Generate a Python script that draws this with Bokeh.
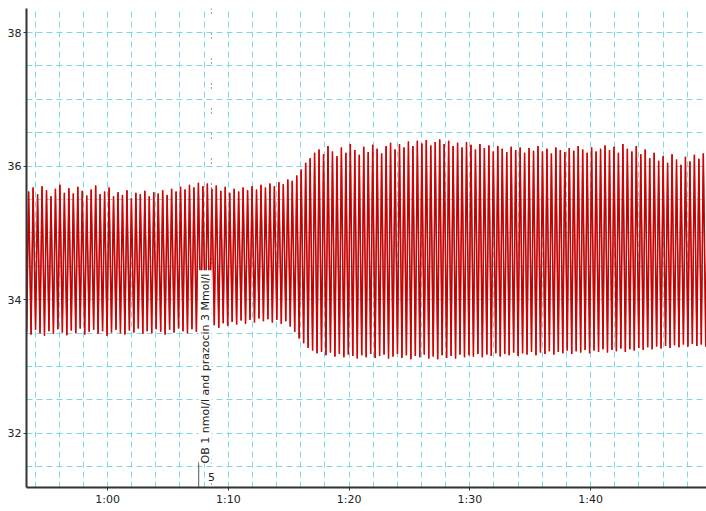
import math
from bokeh.plotting import figure
from bokeh.models import Range1d, FixedTicker, Span, Label, ColumnDataSource
from bokeh.embed import file_html
from bokeh.resources import INLINE

# ---- data ----
CYCLE_START = 53.3     # seconds, first trough
CYCLE_PERIOD = 0.37    # seconds per beat

PEAKS = [
    35.62, 35.68, 35.58, 35.70, 35.64, 35.55, 35.66, 35.72, 35.60, 35.67,
    35.59, 35.69, 35.63, 35.56, 35.65, 35.71, 35.58, 35.62, 35.68, 35.55,
    35.61, 35.57, 35.64, 35.52, 35.60, 35.58, 35.63, 35.55, 35.61, 35.59,
    35.64, 35.57, 35.66, 35.62, 35.69, 35.65, 35.72, 35.68, 35.75, 35.70,
    35.74, 35.66, 35.71, 35.63, 35.69, 35.60, 35.66, 35.62, 35.68, 35.64,
    35.70, 35.65, 35.72, 35.68, 35.74, 35.70, 35.76, 35.73, 35.80, 35.78,
    35.86, 35.95, 36.05, 36.12, 36.20, 36.25, 36.18, 36.30, 36.22, 36.15,
    36.28, 36.20, 36.33, 36.24, 36.17, 36.29, 36.21, 36.32, 36.26, 36.19,
    36.30, 36.35, 36.25, 36.33, 36.28, 36.37, 36.30, 36.38, 36.34, 36.39,
    36.31, 36.36, 36.40, 36.33, 36.38, 36.30, 36.35, 36.28, 36.36, 36.32,
    36.25, 36.33, 36.27, 36.31, 36.22, 36.30, 36.26, 36.21, 36.29, 36.24,
    36.28, 36.20, 36.27, 36.23, 36.30, 36.22, 36.26, 36.19, 36.28, 36.24,
    36.21, 36.27, 36.23, 36.30, 36.25, 36.20, 36.28, 36.22, 36.26, 36.31,
    36.24, 36.29, 36.20, 36.33, 36.26, 36.22, 36.30, 36.18, 36.25, 36.12,
    36.20, 36.08, 36.15, 36.05, 36.18, 36.10, 36.02, 36.14, 36.07, 36.17,
    36.11, 36.19, 36.09,
]

TROUGHS = [
    33.52, 33.48, 33.55, 33.50, 33.46, 33.53, 33.49, 33.56, 33.51, 33.47,
    33.54, 33.50, 33.57, 33.48, 33.52, 33.55, 33.49, 33.53, 33.46, 33.51,
    33.55, 33.50, 33.48, 33.54, 33.51, 33.57, 33.49, 33.53, 33.50, 33.56,
    33.52, 33.48, 33.55, 33.51, 33.57, 33.53, 33.50, 33.56, 33.52, 33.58,
    33.60, 33.56, 33.62, 33.58, 33.65, 33.61, 33.67, 33.63, 33.69, 33.64,
    33.70, 33.66, 33.72, 33.68, 33.71, 33.66, 33.70, 33.64, 33.68, 33.60,
    33.52, 33.42, 33.35, 33.28, 33.24, 33.20, 33.22, 33.17, 33.21, 33.15,
    33.19, 33.14, 33.18, 33.16, 33.12, 33.17, 33.14, 33.19, 33.13, 33.16,
    33.18, 33.12, 33.15, 33.19, 33.13, 33.17, 33.11, 33.16, 33.14, 33.18,
    33.12, 33.15, 33.11, 33.17, 33.13, 33.16, 33.12, 33.18, 33.14, 33.17,
    33.15, 33.19, 33.14, 33.18, 33.16, 33.20, 33.15, 33.19, 33.17, 33.21,
    33.16, 33.20, 33.18, 33.22, 33.17, 33.21, 33.19, 33.23, 33.18, 33.22,
    33.20, 33.24, 33.19, 33.23, 33.21, 33.25, 33.20, 33.24, 33.22, 33.26,
    33.21, 33.25, 33.23, 33.27, 33.22, 33.26, 33.24, 33.28, 33.25, 33.29,
    33.26, 33.30, 33.27, 33.31, 33.28, 33.32, 33.29, 33.33, 33.30, 33.34,
    33.31, 33.33, 33.30,
]

MARKER_TIME = 68.6
MARKER_TEXT = "OB  1 nmol/l and prazocin 3 Mmol/l"
MARKER_NUMBER = "5"

X_TICKS = [60, 70, 80, 90, 100]
X_LABELS = ["1:00", "1:10", "1:20", "1:30", "1:40"]
X_GRID = list(range(54, 110, 2))
Y_TICKS = [32, 34, 36, 38]
Y_GRID = [31.5 + 0.5 * k for k in range(14)]

# ---- build the trace: trough -> peak -> trough for each beat ----
t, v = [], []
for i, (pk, tr) in enumerate(zip(PEAKS, TROUGHS)):
    t0 = CYCLE_START + i * CYCLE_PERIOD
    t.append(t0)
    v.append(tr)
    t.append(t0 + 0.45 * CYCLE_PERIOD)
    v.append(pk)
src = ColumnDataSource(data=dict(t=t, v=v))

p = figure(frame_width=680, frame_height=479,
           x_range=Range1d(53.29, 109.6), y_range=Range1d(31.19, 38.36),
           output_backend="svg", toolbar_location=None,
           min_border_top=8, min_border_right=0, min_border_left=26, min_border_bottom=24)
p.outline_line_color = None
p.background_fill_color = "white"

FONT = "DejaVu Sans"
GRID_COLOR = "#7ed9e0"

p.xaxis.ticker = FixedTicker(ticks=X_TICKS)
p.xaxis.major_label_overrides = {tk: lb for tk, lb in zip(X_TICKS, X_LABELS)}
p.yaxis.ticker = FixedTicker(ticks=Y_TICKS)
for ax in (p.xaxis[0], p.yaxis[0]):
    ax.axis_line_color = "#333333"
    ax.axis_line_width = 2
    ax.major_tick_line_color = "#333333"
    ax.major_tick_out = 3
    ax.major_tick_in = 0
    ax.minor_tick_line_color = None
    ax.major_label_text_font = FONT
    ax.major_label_text_font_size = "11px"
    ax.major_label_text_color = "#222222"
    ax.major_label_standoff = 2

p.xgrid.ticker = FixedTicker(ticks=X_GRID)
p.ygrid.ticker = FixedTicker(ticks=Y_GRID)
for g in (p.xgrid[0], p.ygrid[0]):
    g.grid_line_color = GRID_COLOR
    g.grid_line_dash = "6 4"
    g.grid_line_width = 1

p.line("t", "v", source=src, line_color="#a80000", line_width=1.5)
p.line("t", "v", source=src, line_color="#e60000", line_width=0.7)

p.add_layout(Span(location=MARKER_TIME, dimension="height", line_color="#333333",
                  line_width=1, line_dash="1 3 1 20"))

p.add_layout(Label(x=67.55, y=31.55, text=MARKER_TEXT, angle=math.pi / 2,
                   text_align="left", text_baseline="top",
                   text_font=FONT, text_font_size="11px", text_color="#222222",
                   background_fill_color="white", background_fill_alpha=1.0))
p.line(x=[67.55, 67.55], y=[31.19, 31.58], line_color="#555555", line_width=1)
p.add_layout(Label(x=68.6, y=31.34, text=MARKER_NUMBER, text_align="center",
                   text_baseline="middle", text_font=FONT, text_font_size="11px",
                   text_color="#222222"))

open("out.html", "w").write(file_html(p, INLINE))
